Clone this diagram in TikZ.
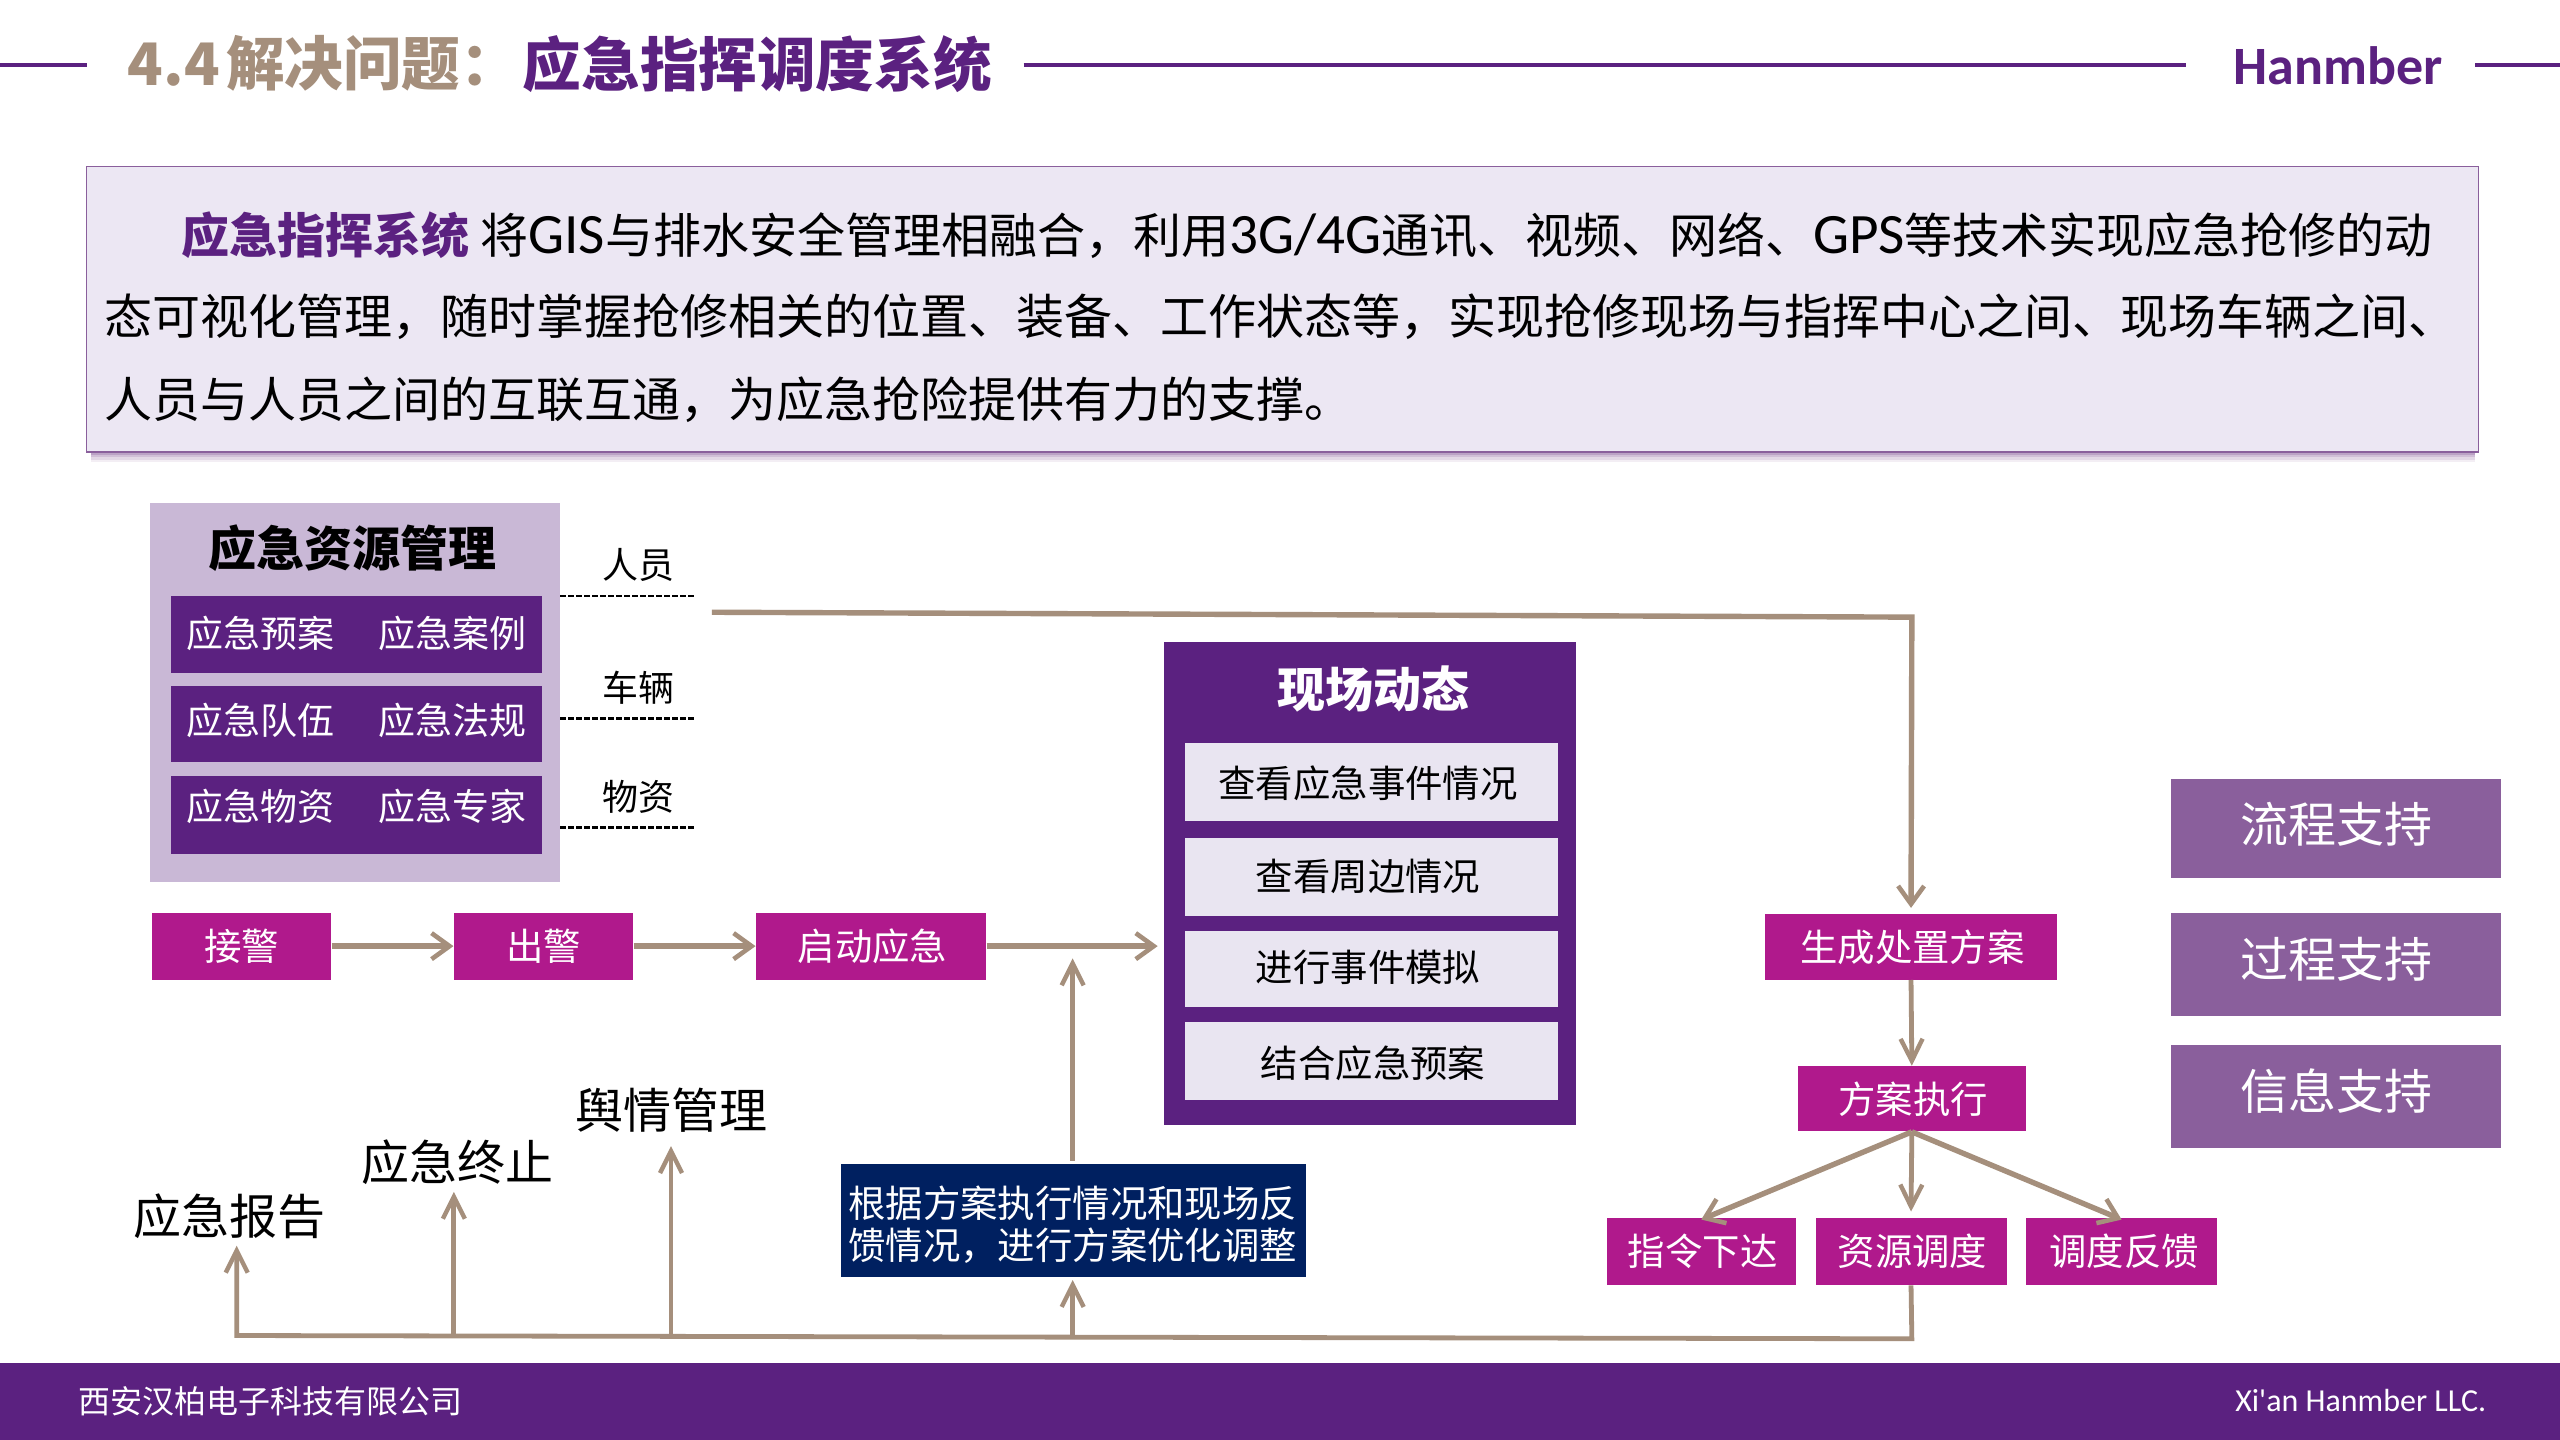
\documentclass[tikz,border=0pt]{standalone}
\usepackage{fontspec}
\setmainfont{Noto Sans CJK SC}
\newfontfamily\latf{Carlito}
\newfontfamily\latb[Scale=1.19]{Carlito}
\usetikzlibrary{arrows.meta}
\definecolor{hpurple}{HTML}{5B2180}
\definecolor{htan}{HTML}{A58F7C}
\definecolor{hmag}{HTML}{B0198C}
\definecolor{hlilac}{HTML}{C9B8D6}
\definecolor{hpale}{HTML}{ECE7F3}
\definecolor{hrow}{HTML}{E9E5F1}
\definecolor{hmid}{HTML}{8A5F9C}
\definecolor{hnavy}{HTML}{002060}
\newcommand\bx[7]{%
  \pgfmathsetmacro\bxw{(#5-#3)*0.81633}%
  \pgfmathsetmacro\bxh{(#6-#4)*0.81633}%
  \node[#2,minimum width=\bxw pt,minimum height=\bxh pt,inner sep=0pt] (#1) at ({(#3+#5)/2},{(#4+#6)/2}) {#7};}
\tikzset{
  x=0.81633pt,y=-0.81633pt,
  txt/.style={inner sep=0pt,font=\fontsize{#1}{#1}\selectfont},
  btxt/.style={inner sep=0pt,font=\fontsize{#1}{#1}\selectfont\bfseries},
  rowbox/.style={fill=hpurple},
  rowtext/.style={inner sep=0pt,text=white,font=\fontsize{18.5}{22}\selectfont},
  magbox/.style={fill=hmag,text=white,font=\fontsize{18.7}{22}\selectfont},
  scenebox/.style={fill=hrow},
  scenetext/.style={inner sep=0pt,text=black,font=\fontsize{18.7}{22}\selectfont},
  sidebox/.style={fill=hmid},
  sidetext/.style={inner sep=0pt,text=white,font=\fontsize{24}{28}\selectfont},
  flow/.style={draw=htan,line width=2.7pt,-{Straight Barb[length=9pt,width=13pt,line width=2.3pt]}},
  flowthin/.style={draw=htan,line width=2.4pt,-{Straight Barb[length=11pt,width=11pt,line width=2.2pt]}},
  dashline/.style={draw=black,line width=1.4pt,dash pattern=on 3pt off 1pt},
  ruleline/.style={draw=hpurple,line width=2pt},
}
\begin{document}
\begin{tikzpicture}
\useasboundingbox (0,0) rectangle (1568,882);
\fill[white] (0,0) rectangle (1568,882);
% header
\coordinate (la) at (0,40); \coordinate (lb) at (53,40);
\coordinate (lc) at (627,40); \coordinate (ld) at (1339,40);
\coordinate (le) at (1516,40); \coordinate (lf) at (1568,40);
\draw[ruleline] (la) -- (lb); \draw[ruleline] (lc) -- (ld); \draw[ruleline] (le) -- (lf);
\node[btxt=29.3,text=htan,anchor=west] (t1) at (78,39) {4.4\hspace{3.2pt}解决问题：};
\node[btxt=29.3,text=hpurple,anchor=west] (t2) at (320,39) {应急指挥调度系统};
\node[btxt=27,text=hpurple,anchor=west] (logo) at (1368,40) {\latf Hanmber};
% intro box
\foreach \d/\o in {6/0.10,4.5/0.15,3/0.2,1.5/0.3}{\fill[hmid,opacity=\o] (56,270) rectangle (1516,277+\d);}
\bx{intro}{fill=hpale,draw=hmid,line width=0.9pt}{53}{102}{1518}{277}{}
\node[anchor=base west,inner sep=0pt,font=\fontsize{24}{28}\selectfont] (l1) at (111,155) {{\bfseries\color{hpurple}应急指挥系统} 将{\latb GIS}与排水安全管理相融合，利用{\latb 3G/4G}通讯、视频、网络、{\latb GPS}等技术实现应急抢修的动};
\node[anchor=base west,inner sep=0pt,font=\fontsize{24}{28}\selectfont] (l2) at (64,205) {态可视化管理，随时掌握抢修相关的位置、装备、工作状态等，实现抢修现场与指挥中心之间、现场车辆之间、};
\node[anchor=base west,inner sep=0pt,font=\fontsize{24}{28}\selectfont] (l3) at (64,256) {人员与人员之间的互联互通，为应急抢险提供有力的支撑。};
% resources
\bx{res}{fill=hlilac}{92}{308}{343}{540}{}
\node[btxt=24] (restitle) at (216,336) {应急资源管理};
\bx{r1}{rowbox}{105}{365}{332}{412}{}
\bx{r2}{rowbox}{105}{420}{332}{467}{}
\bx{r3}{rowbox}{105}{475}{332}{523}{}
\node[rowtext] (r1a) at (159.5,388) {应急预案};
\node[rowtext] (r1b) at (277,388) {应急案例};
\node[rowtext] (r2a) at (159.5,441) {应急队伍};
\node[rowtext] (r2b) at (277,441) {应急法规};
\node[rowtext] (r3a) at (159.5,494) {应急物资};
\node[rowtext] (r3b) at (277,494) {应急专家};
\node[txt=18] (pa) at (391,346) {人员};
\node[txt=18] (pb) at (391,421) {车辆};
\node[txt=18] (pc) at (391,488) {物资};
\coordinate (da1) at (343,365); \coordinate (da2) at (426,365);
\coordinate (db1) at (343,440); \coordinate (db2) at (426,440);
\coordinate (dc1) at (343,507); \coordinate (dc2) at (426,507);
\draw[dashline] (da1) -- (da2);
\draw[dashline] (db1) -- (db2);
\draw[dashline] (dc1) -- (dc2);
% flow row
\bx{jj}{magbox}{93}{559}{203}{600}{接警}
\bx{cj}{magbox}{278}{559}{388}{600}{出警}
\bx{qd}{magbox}{463}{559}{604}{600}{\hspace{1.5pt}启动应急}
% scene panel
\bx{scene}{fill=hpurple}{713}{393}{965}{689}{}
\node[btxt=24,text=white] (scenet) at (841,422) {现场动态};
\bx{s1}{scenebox}{726}{455}{954}{503}{}
\bx{s2}{scenebox}{726}{513}{954}{561}{}
\bx{s3}{scenebox}{726}{570}{954}{617}{}
\bx{s4}{scenebox}{726}{626}{954}{674}{}
\node[scenetext] (s1t) at (838,480) {查看应急事件情况};
\node[scenetext] (s2t) at (838,537) {查看周边情况};
\node[scenetext] (s3t) at (838,592.5) {进行事件模拟};
\node[scenetext] (s4t) at (841,651) {结合应急预案};
% right column
\bx{plan}{magbox}{1081}{560}{1260}{600}{\hspace{1.5pt}生成处置方案}
\bx{exec}{magbox}{1101}{653}{1241}{693}{\hspace{1.5pt}方案执行}
\bx{cmd}{magbox}{984}{746}{1100}{787}{\hspace{1.5pt}指令下达}
\bx{dis}{magbox}{1112}{746}{1229}{787}{\hspace{1.5pt}资源调度}
\bx{fb}{magbox}{1241}{746}{1358}{787}{\hspace{2.5pt}调度反馈}
\bx{sa}{sidebox}{1330}{477}{1532}{538}{}
\bx{sb}{sidebox}{1330}{559}{1532}{622}{}
\bx{sc}{sidebox}{1330}{640}{1532}{703}{}
\node[sidetext] (sat) at (1431,505) {流程支持};
\node[sidetext] (sbt) at (1431,587.5) {过程支持};
\node[sidetext] (sct) at (1431,668.5) {信息支持};
% bottom
\bx{adj}{fill=hnavy}{515}{713}{800}{782}{}
\node[inner sep=0pt,text=white,align=center,font=\fontsize{18.7}{21.2}\selectfont] (adjt) at (657,750) {根据方案执行情况和现场反\\馈情况，进行方案优化调整};
\node[txt=24] (rep) at (140.5,745) {应急报告};
\node[txt=24] (stop) at (280,712) {应急终止};
\node[txt=24] (pub) at (411.5,680) {舆情管理};
% connectors
\coordinate (n1) at (436,375); \coordinate (n2) at (1171,378);
\draw[flow] (n1) -- (n2) -- ([yshift=3pt]plan.north);
\draw[flow] (jj.east) -- (cj.west);
\draw[flow] (cj.east) -- (qd.west);
\draw[flow] (qd.east) -- ([xshift=-3pt]scene.west |- qd.east);
\coordinate (u1) at (657,711); \coordinate (u2) at (657,587);
\draw[flowthin] (u1) -- (u2);
\draw[flowthin] (plan.south) -- (exec.north);
\coordinate (hub) at (exec.south);
\draw[flow] (hub) -- ([yshift=-1pt]cmd.north);
\draw[flowthin] (hub) -- ([yshift=3pt]dis.north);
\draw[flow] (hub) -- ([yshift=-1pt]fb.north);
\coordinate (b1) at (1171,820); \coordinate (b2) at (145,818);
\coordinate (b3) at (278,818); \coordinate (b4) at (411,819); \coordinate (b5) at (657,819);
\coordinate (e2) at (145,763); \coordinate (e3) at (278,730);
\coordinate (e4) at (411,702); \coordinate (e5) at (657,784);
\draw[flowthin] (dis.south) -- (b1) -- (b2) -- (e2);
\draw[flowthin] (b3) -- (e3);
\draw[flowthin] (b4) -- (e4);
\draw[flowthin] (b5) -- (e5);
% footer
\bx{foot}{fill=hpurple}{0}{835}{1568}{882}{}
\node[txt=16,text=white,anchor=west] (ft1) at (48,858) {西安汉柏电子科技有限公司};
\node[inner sep=0pt,text=white,anchor=east,font=\latf\fontsize{16}{18}\selectfont] (ft2) at (1523,858) {Xi'an Hanmber LLC.};
\end{tikzpicture}
\end{document}
